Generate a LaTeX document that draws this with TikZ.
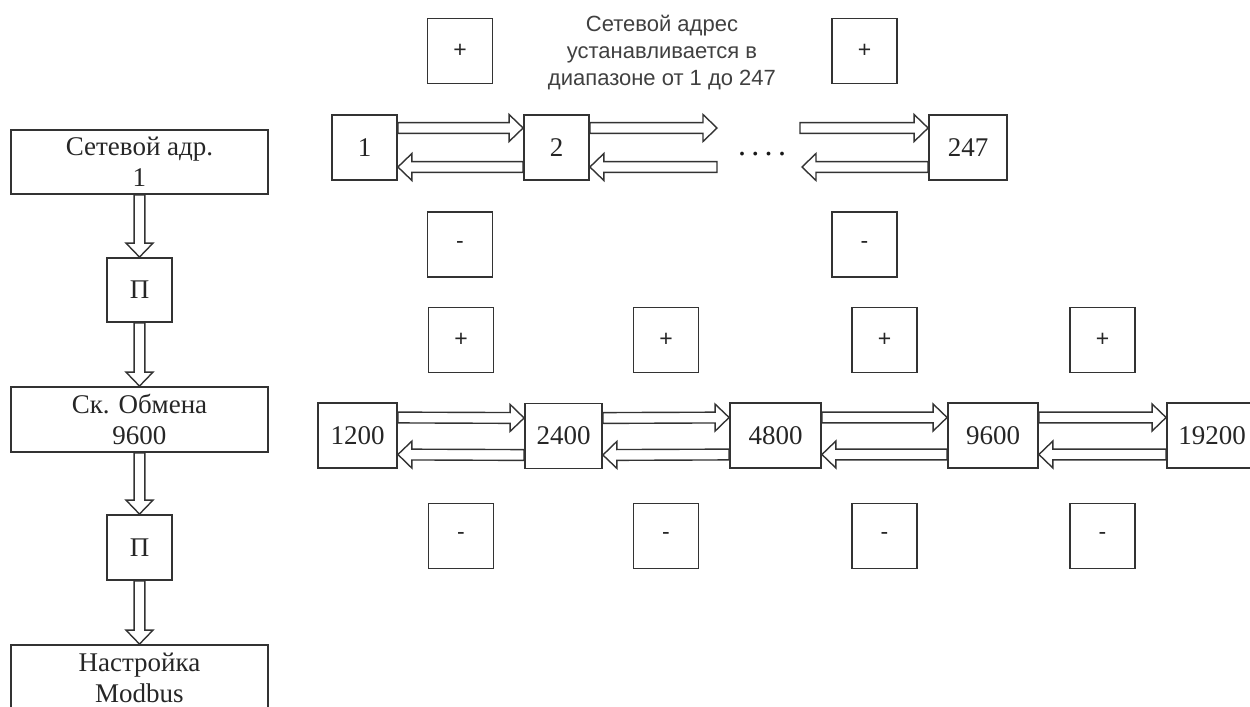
\documentclass[tikz,border=0pt]{standalone}
\usepackage{fontspec}
\setmainfont{Liberation Serif}
\setsansfont{Liberation Sans}
\usetikzlibrary{calc}

% hollow double-line arrow from #1 to #2
\newcommand{\hollowarrow}[2]{%
  \coordinate (hs) at (#1);
  \coordinate (ht) at (#2);
  \coordinate (hb) at ($(ht)!7pt!(hs)$);
  \draw[arrowline] ($(hs)!2.7pt!90:(ht)$) -- ($(hb)!2.7pt!-90:(hs)$) -- ($(hb)!6.75pt!-90:(hs)$) -- (ht)
    -- ($(hb)!6.75pt!90:(hs)$) -- ($(hb)!2.7pt!90:(hs)$) -- ($(hs)!2.7pt!-90:(ht)$) -- cycle;
}

\begin{document}
\begin{tikzpicture}[x=0.5pt,y=-0.5pt,
    box/.style={draw=black!80, line width=0.9pt, minimum height=32.5pt, minimum width=32.5pt,
      inner sep=0pt, align=center, text=black!85, font=\fontsize{13.5}{15.5}\selectfont},
    sign/.style={box, font=\sffamily\fontsize{11.5}{12}\selectfont},
    arrowline/.style={draw=black!80, line width=0.7pt, fill=white}]
    \useasboundingbox (0,0) rectangle (1250,707);

    % left column
    \node[box, minimum width=128.5pt, minimum height=32pt] (adr) at (139.5,162) {Сетевой адр.\\1};
    \node[box, minimum height=32pt] (p1) at (139.5,290) {П};
    \node[box, minimum width=128.5pt] (skor) at (139.5,419.5) {Ск. Обмена\\9600};
    \node[box] (p2) at (139.5,547.5) {П};
    \node[box, minimum width=128.5pt] (mb) at (139.5,677.5) {Настройка\\Modbus};
    \hollowarrow{adr.south}{p1.north}
    \hollowarrow{p1.south}{skor.north}
    \hollowarrow{skor.south}{p2.north}
    \hollowarrow{p2.south}{mb.north}

    % network address
    \node[align=center, text=black!75, font=\sffamily\fontsize{11}{13.5}\selectfont] (note) at (662,53)
        {Сетевой адрес\\устанавливается в\\диапазоне от 1 до 247};
    \node[box] (a1) at (364.5,147.5) {1};
    \node[box] (a2) at (556.5,147.5) {2};
    \node[box, minimum width=39pt] (a247) at (968,147.5) {247};
    \node[text=black!90, font=\fontsize{16}{16}\selectfont] (dots) at (762,154) {.\,.\,.\,.};
    \coordinate (r1) at (717,128);
    \coordinate (r2) at (717,167);
    \coordinate (l1) at (800,128);
    \coordinate (l2) at (802,167);
    \hollowarrow{[yshift=9.75pt]a1.east}{[yshift=9.75pt]a2.west}
    \hollowarrow{[yshift=-9.75pt]a2.west}{[yshift=-9.75pt]a1.east}
    \hollowarrow{[yshift=9.75pt]a2.east}{r1}
    \hollowarrow{r2}{[yshift=-9.75pt]a2.east}
    \hollowarrow{l1}{[yshift=9.75pt]a247.west}
    \hollowarrow{[yshift=-9.75pt]a247.west}{l2}
    \node[sign] (ap1) at (460,51) {+};
    \node[sign] (ap2) at (864.5,51) {+};
    \node[sign] (am1) at (460,244.5) {-};
    \node[sign] (am2) at (864.5,244.5) {-};

    % baud rate
    \node[box, minimum width=39.5pt] (s1200) at (357.5,435.5) {1200};
    \node[box, minimum width=38.5pt] (s2400) at (563.5,436) {2400};
    \node[box, minimum width=45.5pt] (s4800) at (775.5,435.5) {4800};
    \node[box, minimum width=45pt] (s9600) at (993,435.5) {9600};
    \node[box, minimum width=45pt] (s19200) at (1212,435.5) {19200};
    \foreach \a/\b in {s1200/s2400, s2400/s4800, s4800/s9600, s9600/s19200} {
        \hollowarrow{[yshift=9pt]\a.east}{[yshift=9pt]\b.west}
        \hollowarrow{[yshift=-9.5pt]\b.west}{[yshift=-9.5pt]\a.east}
    }
    \foreach \x [count=\i] in {461,666,884.5,1102.5} {
        \node[sign] (sp\i) at (\x,340) {+};
        \node[sign] (sm\i) at (\x,536) {-};
    }
\end{tikzpicture}
\end{document}
